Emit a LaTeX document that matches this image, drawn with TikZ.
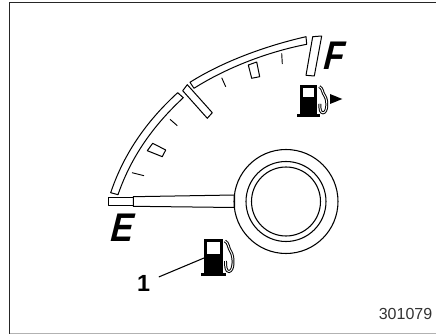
\documentclass[tikz,border=0pt]{standalone}
\usepackage{fontspec}
\setmainfont{Liberation Sans}
\tikzset{
    fuelpump/.pic={
        \fill (0,0) rectangle (25,-3.3);
        \fill (3,-3) rectangle (21.7,-37);
        \fill[white] (6,-22.5) rectangle (18.5,-33.7);
        \draw[double, double distance=0.7pt, line width=0.75pt] (24,-35) .. controls (28,-33) and (27,-28) .. (30,-24)
            .. controls (33,-19) and (33,-5) .. (28,-4.5) .. controls (25,-4.5) and (24.5,-9) .. (24.5,-15);
    }
}
\begin{document}
\begin{tikzpicture}[
    x=0.75pt, y=-0.75pt,
    gaugeline/.style={draw, line width=0.75pt, line join=round},
    tickline/.style={line width=0.7pt},
    letter/.style={font=\fontsize{30}{30}\selectfont\bfseries\itshape, inner sep=0pt, xscale=0.84, xslant=0.1, transform shape},
    callout/.style={font=\fontsize{17.5}{17.5}\selectfont\bfseries, inner sep=6.3pt},
    partno/.style={font=\fontsize{12}{12}\selectfont, text=black!80, inner sep=0pt}
]
\useasboundingbox (0,0) rectangle (436,335);

% frame
\draw[line width=0.9pt, black!85] (436,2.5) -- (9.5,2.5) -- (9.5,333.5);
\draw[line width=0.9pt, black!30] (9.5,333.5) -- (436,333.5);

% scale
\path[gaugeline] (110.7,192.7) .. controls (125,150) and (150,118) .. (177.7,92.7)
    -- (183.3,97.7) .. controls (156,123) and (132,154) .. (118,194.7) -- cycle;
\path[gaugeline] (190,82.3) .. controls (222,62) and (265,46) .. (306,36.7)
    -- (306.7,44.3) .. controls (267,52) and (226,68) .. (194,88.3) -- cycle;
\path[gaugeline] (182.7,90.7) -- (187.3,84.7) -- (212.3,112.7) -- (207.3,118.3) -- cycle;
\path[gaugeline] (312.7,36.7) -- (321.7,36) -- (314.3,76) -- (306,75.3) -- cycle;
\path[gaugeline] (152.7,143.3) -- (165.7,150) -- (162.3,156.7) -- (147.3,150.7) -- cycle;
\path[gaugeline] (248.3,65) -- (256.7,62) -- (259.7,76.7) -- (251.7,78.3) -- cycle;
\draw[tickline] (132,172.7) -- (144,175.7);
\draw[tickline] (170,119.3) -- (177.3,125.7);
\draw[tickline] (221.7,77.7) -- (225.7,86.7);
\draw[tickline] (281.7,53.3) -- (282.3,64);

% needle and hub
\path[gaugeline] (108.3,197.3) rectangle (133.3,205.7);
\path[gaugeline] (133.3,196.7) -- (234.5,195) -- (234.5,207.5) -- (133.3,206.3) -- cycle;
\draw[line width=0.8pt] (286,201.5) circle (52);
\draw[line width=0.8pt] (286,201.5) circle (40);
\draw[line width=0.8pt] (286,201.5) circle (34.5);

% labels
\node[letter] (empty) at (123,227.5) {E};
\node[letter] (full) at (334.5,56) {F};
\node[callout] (one) at (143.7,283.3) {1};
\node[partno, anchor=east] (code) at (432.5,314) {301079};

% pumps
\pic at (201,276) {fuelpump};
\pic[xscale=0.93, yscale=0.86] at (297,116.7) {fuelpump};
\fill (330,94) -- (342.3,99) -- (330,104) -- cycle;
\coordinate (pumpside) at (204,258);
\draw[line width=0.8pt] (one) -- (pumpside);

\end{tikzpicture}
\end{document}
